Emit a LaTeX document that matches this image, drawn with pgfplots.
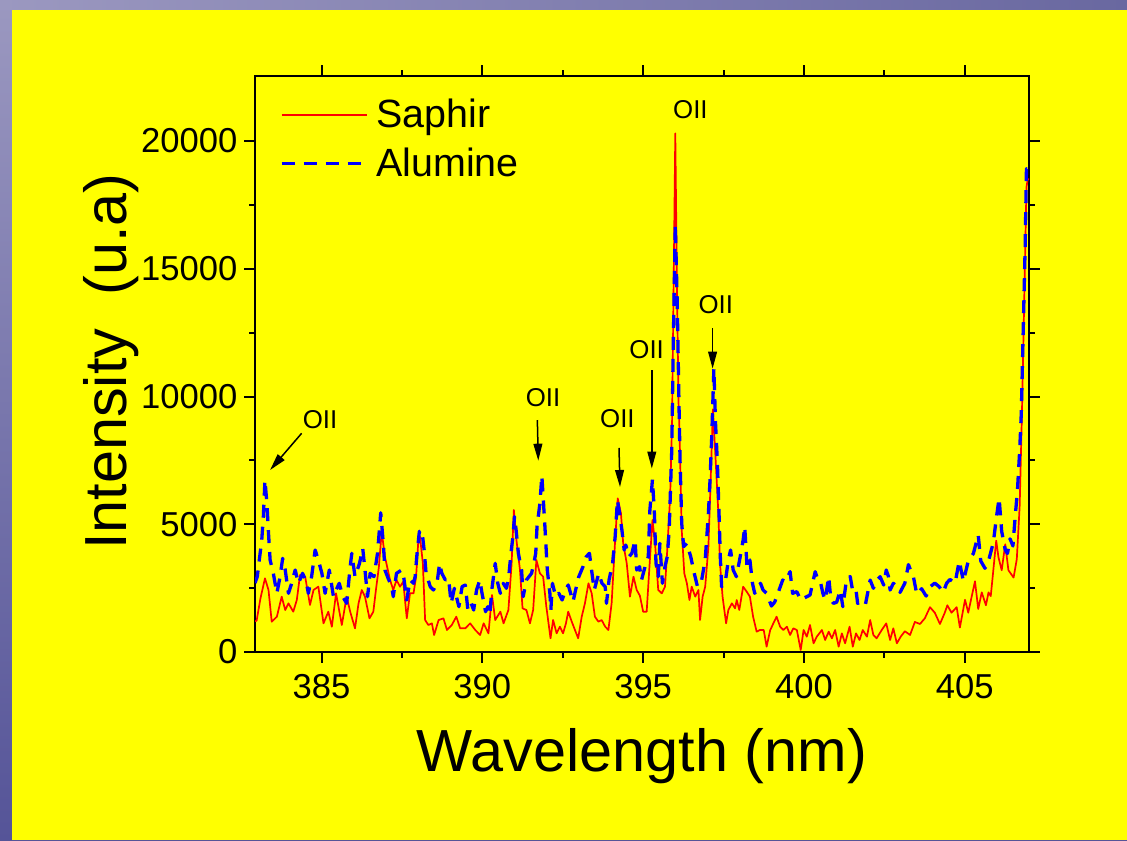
\documentclass[border=0pt]{standalone}
\usepackage{fontspec}
\setmainfont{Liberation Sans}
\usepackage{pgfplots}
\pgfplotsset{compat=1.18}
\usetikzlibrary{arrows.meta}
\definecolor{frameTL}{RGB}{155,152,192}
\definecolor{frameTR}{RGB}{105,104,160}
\definecolor{frameBL}{RGB}{85,84,152}
\definecolor{bgyellow}{RGB}{255,255,0}
\begin{document}
\begin{tikzpicture}
\useasboundingbox (0,0) rectangle (563.5pt,420pt);
\shade[top color=frameTL, bottom color=frameBL] (0,0) rectangle (563.5pt,420pt);
\shade[left color=frameTL, right color=frameTR] (0,415pt) rectangle (563.5pt,420pt);
\fill[bgyellow] (6pt,0) rectangle (563.5pt,415pt);
\begin{axis}[
  at={(127.5pt,94pt)}, anchor=south west, scale only axis,
  width=387pt, height=288pt,
  xmin=382.93, xmax=407.0, ymin=0, ymax=22545,
  xtick={385,390,395,400,405}, minor x tick num=1,
  ytick={0,5000,10000,15000,20000}, minor y tick num=1,
  tick align=outside,
  major tick length=5.3pt, minor tick length=2.8pt,
  every tick/.style={black, line width=1pt},
  axis line style={line width=1.4pt},
  ticklabel style={font=\fontsize{17.3}{20}\selectfont},
  xticklabel style={yshift=-2.5pt},
  /pgf/number format/assume math mode=true,
  scaled y ticks=false,
  yticklabel style={/pgf/number format/1000 sep={}},
  xlabel={Wavelength (nm)}, ylabel={Intensity~~(u.a)},
  label style={font=\fontsize{29.7}{34}\selectfont},
  xlabel style={at={(axis description cs:0.5,-0.2083)}, anchor=base},
  ylabel style={at={(axis description cs:-0.1654,0.504)}, anchor=base},
  legend style={at={(0.0323,0.9593)}, anchor=north west, draw=none, fill=none,
    font=\fontsize{19.7}{23}\selectfont, row sep=8.5pt, inner sep=0pt, outer sep=0pt,
    nodes={inner sep=0pt},
    /tikz/every odd column/.append style={column sep=4pt}},
  legend cell align=left,
  legend image code/.code={\draw[#1] (0pt,0pt) -- (42.5pt,0pt);},
]
\addplot[red, line width=0.85pt, line join=round] coordinates {
(382.93,1200) (382.98,1226) (383.10,2100) (383.24,2883) (383.35,2427) (383.45,1186)
(383.61,1382) (383.76,2166) (383.87,1644) (383.97,1905) (384.12,1578) (384.23,2035)
(384.33,3014) (384.49,2948) (384.64,1840) (384.75,2427) (384.90,2557) (385.06,1122)
(385.21,1578) (385.32,990) (385.45,2296) (385.63,1057) (385.78,2166) (385.89,1578)
(386.04,926) (386.15,1905) (386.25,2427) (386.35,2166) (386.49,1318) (386.61,1578)
(386.69,2427) (386.78,3300) (386.87,4710) (386.97,3731) (387.13,2818) (387.23,2427)
(387.33,2818) (387.44,2557) (387.54,2753) (387.65,1318) (387.75,2296) (387.86,2296)
(387.94,2948) (388.01,4384) (388.06,4514) (388.15,3470) (388.22,1252) (388.32,1057)
(388.43,1122) (388.50,665) (388.64,1252) (388.79,1318) (388.90,861) (389.05,1057)
(389.19,1382) (389.31,926) (389.47,926) (389.62,1122) (389.78,861) (389.93,665)
(390.04,1122) (390.19,730) (390.30,2231) (390.40,1252) (390.56,1578) (390.66,1122)
(390.81,1644) (390.91,3470) (390.98,5558) (391.06,4384) (391.17,3210) (391.25,1709)
(391.37,1644) (391.48,1122) (391.58,1644) (391.68,3601) (391.79,3079) (391.89,2948)
(391.99,1774) (392.12,535) (392.20,1252) (392.31,730) (392.41,991) (392.51,730)
(392.60,1122) (392.67,1578) (392.78,1187) (392.88,861) (392.98,535) (393.09,1382)
(393.19,1905) (393.30,2688) (393.40,2296) (393.50,1382) (393.61,1187) (393.71,1252)
(393.82,991) (393.92,861) (394.02,1905) (394.13,4384) (394.21,6014) (394.31,5428)
(394.38,4254) (394.49,3470) (394.59,2166) (394.70,2948) (394.80,2427) (394.90,2200)
(395.00,1578) (395.11,1578) (395.19,3210) (395.29,5167) (395.37,4254) (395.47,2427)
(395.58,2296) (395.68,2557) (395.75,3992) (395.84,6079) (395.90,9000) (395.95,14500)
(396.00,20300) (396.05,14500) (396.10,9800) (396.13,8690) (396.20,4775) (396.28,3079)
(396.36,2688) (396.44,2035) (396.51,2557) (396.62,2166) (396.72,2427) (396.77,1252)
(396.85,2166) (396.93,2557) (397.03,4123) (397.10,6733) (397.17,9500) (397.26,7385)
(397.34,5428) (397.39,3470) (397.47,2166) (397.58,1122) (397.65,1644) (397.76,1905)
(397.86,1709) (397.91,2035) (397.99,1644) (398.11,2557) (398.22,2362) (398.32,2166)
(398.42,1382) (398.53,796) (398.63,861) (398.75,861) (398.84,209) (398.95,850)
(399.05,1122) (399.15,1382) (399.26,991) (399.36,861) (399.47,991) (399.57,665)
(399.67,926) (399.78,861) (399.90,78) (399.99,861) (400.09,600) (400.19,1057)
(400.30,340) (400.40,600) (400.56,861) (400.66,470) (400.77,796) (400.87,535)
(400.97,861) (401.08,209) (401.18,730) (401.28,340) (401.42,991) (401.52,209)
(401.62,730) (401.73,470) (401.83,861) (401.96,600) (402.06,1252) (402.16,665)
(402.26,535) (402.42,861) (402.56,1122) (402.68,470) (402.78,926) (402.89,340)
(403.01,600) (403.14,814) (403.30,666) (403.45,1175) (403.61,1096) (403.76,1319)
(403.92,1754) (404.07,1538) (404.23,1096) (404.38,1538) (404.46,1828) (404.59,1538)
(404.75,1754) (404.85,959) (405.01,2043) (405.11,1538) (405.22,2188) (405.32,2767)
(405.42,1683) (405.53,2333) (405.66,1828) (405.74,2333) (405.81,2188) (405.89,3200)
(405.98,4360) (406.05,3707) (406.15,3200) (406.26,4215) (406.36,3200) (406.52,2912)
(406.62,3636) (406.71,5734) (406.78,9354) (406.85,13700) (406.92,18190) (406.96,18500)
(407.05,18500)
};
\addlegendentry{Saphir}
\addplot[blue, line width=1.65pt, dash pattern=on 6.5pt off 4.5pt, line join=round] coordinates {
(382.93,2700) (383.00,2948) (383.14,4384) (383.19,5297) (383.24,6733) (383.30,5820)
(383.35,4645) (383.40,3601) (383.50,3079) (383.61,2296) (383.71,2948) (383.79,3666)
(383.87,3210) (383.97,2296) (384.07,2688) (384.18,3210) (384.28,2688) (384.41,3079)
(384.52,2753) (384.59,2296) (384.69,2948) (384.80,3992) (384.90,3601) (385.01,3079)
(385.11,2296) (385.24,3210) (385.37,2166) (385.45,2427) (385.55,2688) (385.66,2166)
(385.78,1905) (385.89,3340) (385.94,3862) (386.04,2948) (386.18,3470) (386.28,4058)
(386.35,3210) (386.43,2166) (386.51,3079) (386.63,2948) (386.74,3862) (386.84,5450)
(386.92,4254) (386.97,3210) (387.07,2883) (387.18,2557) (387.23,2166) (387.33,3079)
(387.49,3210) (387.56,2883) (387.65,2035) (387.75,2818) (387.86,2688) (387.91,2948)
(387.96,3731) (388.04,4710) (388.12,4775) (388.19,3992) (388.25,3079) (388.38,2557)
(388.48,2427) (388.59,2688) (388.67,3470) (388.74,3079) (388.85,2818) (388.95,2883)
(389.03,1905) (389.13,2492) (389.27,1774) (389.37,2557) (389.47,2622) (389.55,1644)
(389.65,1905) (389.73,1644) (389.82,2427) (389.92,2818) (389.99,2296) (390.10,1578)
(390.17,1774) (390.23,1448) (390.30,2492) (390.40,3470) (390.48,2688) (390.56,2296)
(390.65,2688) (390.75,2492) (390.82,2948) (390.89,3862) (390.95,4514) (391.00,5300)
(391.05,4775) (391.12,3862) (391.22,3210) (391.27,2166) (391.37,2818) (391.53,3079)
(391.60,3470) (391.66,3862) (391.70,4905) (391.79,5820) (391.85,6900) (391.89,6079)
(391.94,5036) (391.98,4123) (392.02,3210) (392.10,2296) (392.13,1644) (392.18,2688)
(392.28,2166) (392.38,2296) (392.48,2035) (392.59,2427) (392.67,2622) (392.82,1970)
(392.90,2427) (393.00,2948) (393.13,3340) (393.23,3731) (393.33,3862) (393.41,3079)
(393.48,2427) (393.62,3079) (393.72,2688) (393.82,2557) (393.86,1905) (393.94,2818)
(394.05,3470) (394.13,4514) (394.20,5950) (394.25,5558) (394.34,4775) (394.41,3992)
(394.46,4188) (394.56,3731) (394.65,3862) (394.75,4384) (394.80,3210) (394.89,3340)
(394.95,2818) (395.06,3340) (395.16,3731) (395.21,5558) (395.29,6750) (395.35,5428)
(395.40,3470) (395.47,2948) (395.52,4254) (395.60,2688) (395.68,3340) (395.75,3731)
(395.81,4775) (395.85,6340) (395.89,7900) (395.94,12250) (396.00,16750) (396.06,13700)
(396.12,9354) (396.15,7385) (396.20,5036) (396.26,4123) (396.36,4254) (396.48,3731)
(396.59,3079) (396.69,2557) (396.82,2818) (396.93,3601) (396.98,4514) (397.03,5428)
(397.08,6733) (397.13,8300) (397.20,11090) (397.25,9000) (397.31,7385) (397.36,5428)
(397.40,3731) (397.44,2557) (397.55,2688) (397.65,3601) (397.72,3992) (397.80,3210)
(397.90,2948) (398.00,3601) (398.11,4384) (398.16,4905) (398.23,3340) (398.32,3601)
(398.40,2688) (398.47,2296) (398.58,2557) (398.65,2688) (398.73,2427) (398.84,2296)
(398.99,1800) (399.09,1950) (399.21,2362) (399.34,2818) (399.42,2750) (399.57,3144)
(399.65,2296) (399.78,2362) (399.90,2035) (399.98,2100) (400.09,2166) (400.19,2231)
(400.35,3144) (400.42,2883) (400.50,2818) (400.59,2296) (400.66,2035) (400.77,2948)
(400.84,2035) (400.92,1905) (401.02,1950) (401.13,2427) (401.21,1774) (401.33,2883)
(401.44,2948) (401.52,2362) (401.62,2427) (401.67,1905) (401.80,1970) (401.91,1840)
(402.06,2818) (402.16,2492) (402.27,2818) (402.37,2948) (402.48,2622) (402.56,3210)
(402.63,2948) (402.68,2427) (402.78,2688) (402.91,2557) (402.99,2333) (403.14,2697)
(403.25,3420) (403.41,2912) (403.51,2261) (403.66,2478) (403.80,2188) (403.92,2550)
(404.07,2697) (404.21,2550) (404.33,2333) (404.44,2697) (404.54,2840) (404.70,2697)
(404.83,3562) (404.96,2770) (405.11,3562) (405.27,3854) (405.42,4580) (405.50,3562)
(405.63,3276) (405.74,3562) (405.89,4286) (405.99,5300) (406.07,6027) (406.15,4720)
(406.26,4000) (406.33,3854) (406.41,4430) (406.50,4150) (406.57,5300) (406.64,6313)
(406.71,7906) (406.76,9354) (406.80,11527) (406.84,13700) (406.88,15870) (406.92,18910)
(407.05,18900)
};
\addlegendentry{Alumine}
\tikzset{oii/.style={font=\fontsize{12.9}{15}\selectfont, inner sep=0pt},
         oiiarrow/.style={-{Triangle[length=8.5pt,width=4.4pt]}, line width=0.75pt, black}}
\node[oii] at (axis cs:384.95,9080) {OII};
\draw[oiiarrow] (axis cs:384.38,8560) -- (axis cs:383.40,7123);
\node[oii] at (axis cs:391.89,9942) {OII};
\draw[oiiarrow] (axis cs:391.71,9080) -- (axis cs:391.74,7488);
\node[oii] at (axis cs:394.20,9139) {OII};
\draw[oiiarrow] (axis cs:394.25,7985) -- (axis cs:394.28,6458);
\node[oii] at (axis cs:395.11,11820) {OII};
\draw[oiiarrow] (axis cs:395.27,11022) -- (axis cs:395.27,7182);
\node[oii] at (axis cs:396.47,21230) {OII};
\node[oii] at (axis cs:397.26,13597) {OII};
\draw[oiiarrow] (axis cs:397.16,12681) -- (axis cs:397.16,11092);
\end{axis}
\end{tikzpicture}
\end{document}
